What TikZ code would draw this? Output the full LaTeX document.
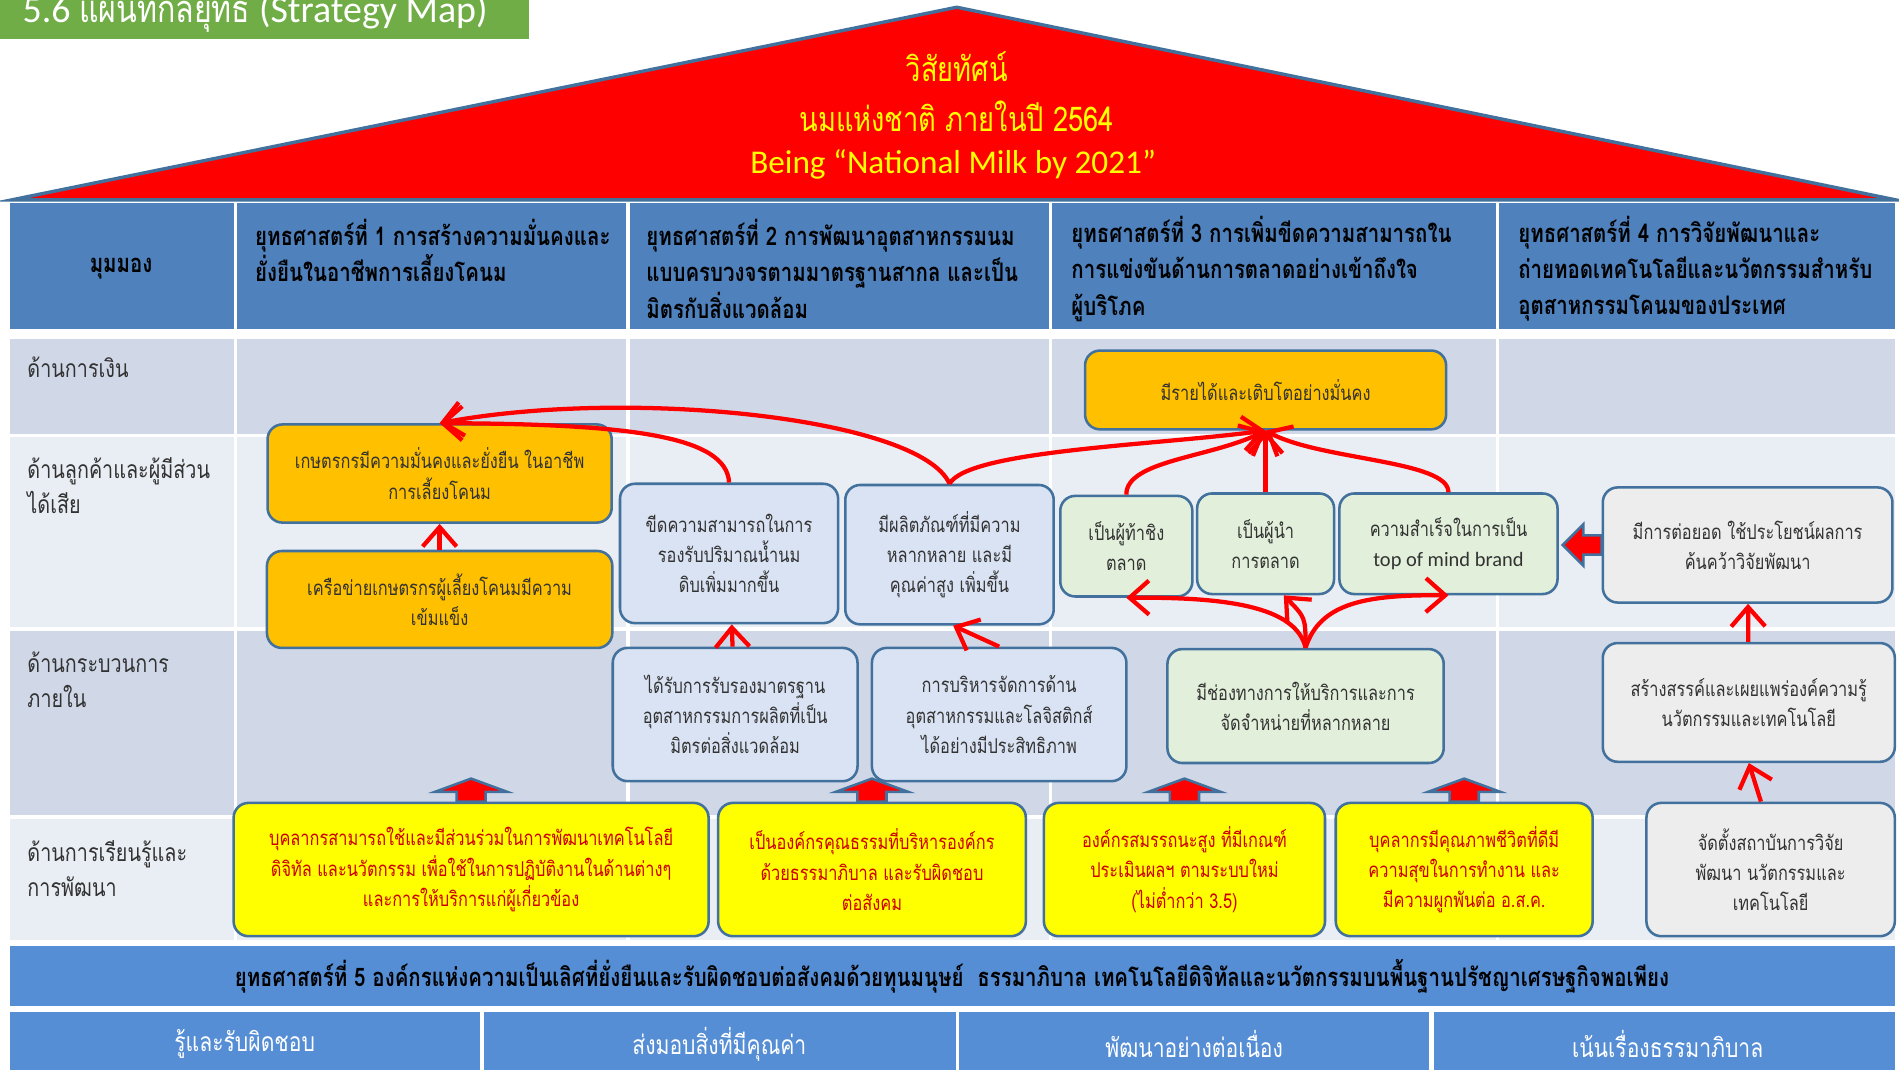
\documentclass[tikz,border=0pt]{standalone}
\usepackage{fontspec}
\setmainfont{Carlito}
\newfontfamily\thai[Script=Thai, FakeStretch=0.8]{Loma}
\usetikzlibrary{positioning, arrows.meta, calc}
\usepackage{xcolor}

\definecolor{titlegreen}{RGB}{112,173,71}
\definecolor{visred}{RGB}{255,0,0}
\definecolor{visyellow}{RGB}{255,255,0}
\definecolor{hdrblue}{RGB}{79,129,189}
\definecolor{rowdark}{RGB}{208,216,232}
\definecolor{rowlight}{RGB}{233,237,244}
\definecolor{edgeblue}{RGB}{65,113,156}
\definecolor{boxorange}{RGB}{255,192,0}
\definecolor{boxblue}{RGB}{218,227,243}
\definecolor{boxgreen}{RGB}{226,239,218}
\definecolor{boxgray}{RGB}{237,237,237}
\definecolor{txtred}{RGB}{205,0,0}
\definecolor{txtgray}{RGB}{50,50,50}
\definecolor{sfiveblue}{RGB}{85,142,213}

\newcommand{\hdrfont}{\thai\bfseries\fontsize{6}{8.5}\selectfont}
\newcommand{\lblfont}{\thai\fontsize{5.8}{8.2}\selectfont}
\newcommand{\valfont}{\thai\fontsize{6.2}{8.2}\selectfont}
\newcommand{\boxfont}{\thai\fontsize{4.8}{7.1}\selectfont}
\newcommand{\visfont}{\thai\fontsize{8}{11.4}\selectfont}

\tikzset{
  box/.style={draw=edgeblue, line width=0.6pt, rounded corners=3.5pt, align=center, inner sep=1pt, text=txtgray, font=\boxfont},
  orangebox/.style={box, fill=boxorange},
  bluebox/.style={box, fill=boxblue},
  greenbox/.style={box, fill=boxgreen},
  graybox/.style={box, fill=boxgray},
  yellowbox/.style={box, fill=visyellow, text=txtred},
  hdr/.style={font=\hdrfont, text=black, align=left, anchor=west, inner sep=0pt},
  rowlbl/.style={font=\lblfont, text=txtgray, align=left, anchor=west, inner sep=0pt},
  valtxt/.style={font=\valfont, text=white, inner sep=0pt},
  link/.style={draw=visred, line width=1pt, -{Straight Barb[length=1.6mm, width=2.8mm, line width=1pt]}},
  blockarr/.style={fill=visred, draw=edgeblue, line width=0.6pt},
}

% flat block arrow standing on top of a box
\newcommand{\upblock}[1]{\filldraw[blockarr] ($(#1)+(0,-19)$) -- ++(30,11) -- ++(-18,0) -- ++(0,8) -- ++(-24,0) -- ++(0,-8) -- ++(-18,0) -- cycle;}

\begin{document}
\begin{tikzpicture}[x=0.01cm, y=-0.01cm]
  \useasboundingbox (0,0) rectangle (1568,883);

  % title tab, cut by the top edge as in the slide
  \fill[titlegreen] (0,-5) rectangle (437,32);
  \node[text=white, anchor=base west, inner sep=0pt, font=\fontsize{8.9}{10}\selectfont] (title) at (18,19) {5.6 {\thai แผนที่กลยุทธ์} (Strategy Map)};

  % vision roof
  \filldraw[fill=visred, draw=edgeblue, line width=0.8pt] (10,165) -- (790,6) -- (1565,165) -- cycle;
  \node[font=\visfont, text=visyellow] (vis1) at (790,55) {วิสัยทัศน์};
  \node[font=\visfont, text=visyellow] (vis2) at (790,96) {นมแห่งชาติ ภายในปี 2564};
  \node[font=\fontsize{7.8}{10}\selectfont, text=visyellow] (vis3) at (787,136) {Being “National Milk by 2021”};

  % table: header row and the four perspective rows
  \foreach \xa/\xb in {8/193, 196/517, 520/866, 869/1235, 1238/1565}
    \fill[hdrblue] (\xa,168) rectangle (\xb,272);
  \foreach \ya/\yb/\c in {280/358/rowdark, 361/518/rowlight, 521/673/rowdark, 676/776/rowlight}
    \foreach \xa/\xb in {8/193, 196/517, 520/866, 869/1235, 1238/1565}
      \fill[\c] (\xa,\ya) rectangle (\xb,\yb);

  \node[hdr, anchor=center] (h0) at (100,222) {มุมมอง};
  \node[hdr] (h1) at (210,207) {ยุทธศาสตร์ที่ 1 การสร้างความมั่นคงและ\\ยั่งยืนในอาชีพการเลี้ยงโคนม};
  \node[hdr] (h2) at (533,222) {ยุทธศาสตร์ที่ 2 การพัฒนาอุตสาหกรรมนม\\แบบครบวงจรตามมาตรฐานสากล และเป็น\\มิตรกับสิ่งแวดล้อม};
  \node[hdr] (h3) at (884,222) {ยุทธศาสตร์ที่ 3 การเพิ่มขีดความสามารถใน\\การแข่งขันด้านการตลาดอย่างเข้าถึงใจ\\ผู้บริโภค};
  \node[hdr] (h4) at (1253,222) {ยุทธศาสตร์ที่ 4 การวิจัยพัฒนาและ\\ถ่ายทอดเทคโนโลยีและนวัตกรรมสำหรับ\\อุตสาหกรรมโคนมของประเทศ};

  \node[rowlbl] (p1) at (22,303) {ด้านการเงิน};
  \node[rowlbl] (p2) at (22,401) {ด้านลูกค้าและผู้มีส่วน\\ได้เสีย};
  \node[rowlbl] (p3) at (22,561) {ด้านกระบวนการ\\ภายใน};
  \node[rowlbl] (p4) at (22,717) {ด้านการเรียนรู้และ\\การพัฒนา};

  % objectives
  \node[orangebox, minimum width=2.98cm, minimum height=0.65cm] (fin) at (1045,322) {มีรายได้และเติบโตอย่างมั่นคง};
  \node[orangebox, minimum width=2.84cm, minimum height=0.81cm] (farmer) at (363,391) {เกษตรกรมีความมั่นคงและยั่งยืน ในอาชีพ\\การเลี้ยงโคนม};
  \node[orangebox, minimum width=2.85cm, minimum height=0.80cm] (network) at (363,495) {เครือข่ายเกษตรกรผู้เลี้ยงโคนมมีความ\\เข้มแข็ง};
  \node[bluebox, minimum width=1.80cm, minimum height=1.15cm] (capacity) at (602,457) {ขีดความสามารถในการ\\รองรับปริมาณน้ำนม\\ดิบเพิ่มมากขึ้น};
  \node[bluebox, minimum width=1.72cm, minimum height=1.15cm] (product) at (784,458) {มีผลิตภัณฑ์ที่มีความ\\หลากหลาย และมี\\คุณค่าสูง เพิ่มขึ้น};
  \node[greenbox, minimum width=1.09cm, minimum height=0.83cm] (challenger) at (930,451) {เป็นผู้ท้าชิง\\ตลาด};
  \node[greenbox, minimum width=1.13cm, minimum height=0.83cm] (leader) at (1045,449) {เป็นผู้นำ\\การตลาด};
  \node[greenbox, minimum width=1.80cm, minimum height=0.83cm] (brand) at (1196,449) {ความสำเร็จในการเป็น\\{\rmfamily top of mind brand}};
  \node[graybox, minimum width=2.39cm, minimum height=0.95cm] (research) at (1443,450) {มีการต่อยอด ใช้ประโยชน์ผลการ\\ค้นคว้าวิจัยพัฒนา};
  \node[bluebox, minimum width=2.02cm, minimum height=1.10cm] (standard) at (607,590) {ได้รับการรับรองมาตรฐาน\\อุตสาหกรรมการผลิตที่เป็น\\มิตรต่อสิ่งแวดล้อม};
  \node[bluebox, minimum width=2.10cm, minimum height=1.10cm] (logistics) at (825,590) {การบริหารจัดการด้าน\\อุตสาหกรรมและโลจิสติกส์\\ได้อย่างมีประสิทธิภาพ};
  \node[greenbox, minimum width=2.28cm, minimum height=0.94cm] (channel) at (1078,583) {มีช่องทางการให้บริการและการ\\จัดจำหน่ายที่หลากหลาย};
  \node[graybox, minimum width=2.41cm, minimum height=0.98cm] (knowledge) at (1444,580) {สร้างสรรค์และเผยแพร่องค์ความรู้\\นวัตกรรมและเทคโนโลยี};
  \node[yellowbox, minimum width=3.92cm, minimum height=1.10cm] (digital) at (389,718) {บุคลากรสามารถใช้และมีส่วนร่วมในการพัฒนาเทคโนโลยี\\ดิจิทัล และนวัตกรรม เพื่อใช้ในการปฏิบัติงานในด้านต่างๆ\\และการให้บริการแก่ผู้เกี่ยวข้อง};
  \node[yellowbox, minimum width=2.54cm, minimum height=1.10cm] (ethics) at (720,718) {เป็นองค์กรคุณธรรมที่บริหารองค์กร\\ด้วยธรรมาภิบาล และรับผิดชอบ\\ต่อสังคม};
  \node[yellowbox, minimum width=2.32cm, minimum height=1.10cm] (perform) at (978,718) {องค์กรสมรรถนะสูง ที่มีเกณฑ์\\ประเมินผลฯ ตามระบบใหม่\\(ไม่ต่ำกว่า 3.5)};
  \node[yellowbox, minimum width=2.12cm, minimum height=1.10cm] (wellbeing) at (1209,718) {บุคลากรมีคุณภาพชีวิตที่ดีมี\\ความสุขในการทำงาน และ\\มีความผูกพันต่อ อ.ส.ค.};
  \node[graybox, minimum width=2.05cm, minimum height=1.10cm] (institute) at (1462,718) {จัดตั้งสถาบันการวิจัย\\พัฒนา นวัตกรรมและ\\เทคโนโลยี};

  % learning row pushes up into the process row
  \upblock{digital.north}
  \upblock{ethics.north}
  \upblock{perform.north}
  \upblock{wellbeing.north}
  \filldraw[blockarr] ($(research.west)+(-32,0)$) -- ++(17,-17) -- ++(0,9) -- ++(15,0) -- ++(0,16) -- ++(-15,0) -- ++(0,9) -- cycle;

  % cause and effect links
  \draw[link] (network) -- (farmer);
  \draw[link] (capacity.north) .. controls (600,360) and (520,350) .. (farmer.north);
  \draw[link] (product.north) .. controls (760,345) and (520,320) .. (farmer.north);
  \draw[link] (product.north) .. controls (800,372) and (950,368) .. (fin.south);
  \draw[link] (challenger.north) .. controls (930,380) and (1000,378) .. (fin.south);
  \draw[link] (leader) -- (fin);
  \draw[link] (brand.north) .. controls (1196,380) and (1090,380) .. (fin.south);
  \draw[link] (channel.north) .. controls (1070,500) and (1010,493) .. (challenger.south);
  \draw[link] (channel.north) .. controls (1078,510) .. ($(leader.south)+(15,0)$);
  \draw[link] (channel.north) .. controls (1090,497) and (1130,491) .. (brand.south);
  \draw[link] (standard) -- (capacity);
  \draw[link] (logistics.north) -- ($(product.south)+(3,0)$);
  \draw[link] (knowledge) -- (research);
  \draw[link] ($(institute.north)+(-8,0)$) -- (knowledge.south);

  % strategy 5 and core values
  \fill[sfiveblue] (8,781) rectangle (1565,831);
  \node[font=\hdrfont, text=black] (s5) at (786,806) {ยุทธศาสตร์ที่ 5 องค์กรแห่งความเป็นเลิศที่ยั่งยืนและรับผิดชอบต่อสังคมด้วยทุนมนุษย์~ ธรรมาภิบาล เทคโนโลยีดิจิทัลและนวัตกรรมบนพื้นฐานปรัชญาเศรษฐกิจพอเพียง};
  \foreach \xa/\xb in {8/396, 400/789, 792/1180, 1184/1565}
    \fill[sfiveblue] (\xa,836) rectangle (\xb,890);
  \node[valtxt] (v1) at (202,862) {รู้และรับผิดชอบ};
  \node[valtxt] (v2) at (594,862) {ส่งมอบสิ่งที่มีคุณค่า};
  \node[valtxt] (v3) at (986,862) {พัฒนาอย่างต่อเนื่อง};
  \node[valtxt] (v4) at (1377,862) {เน้นเรื่องธรรมาภิบาล};
\end{tikzpicture}
\end{document}
